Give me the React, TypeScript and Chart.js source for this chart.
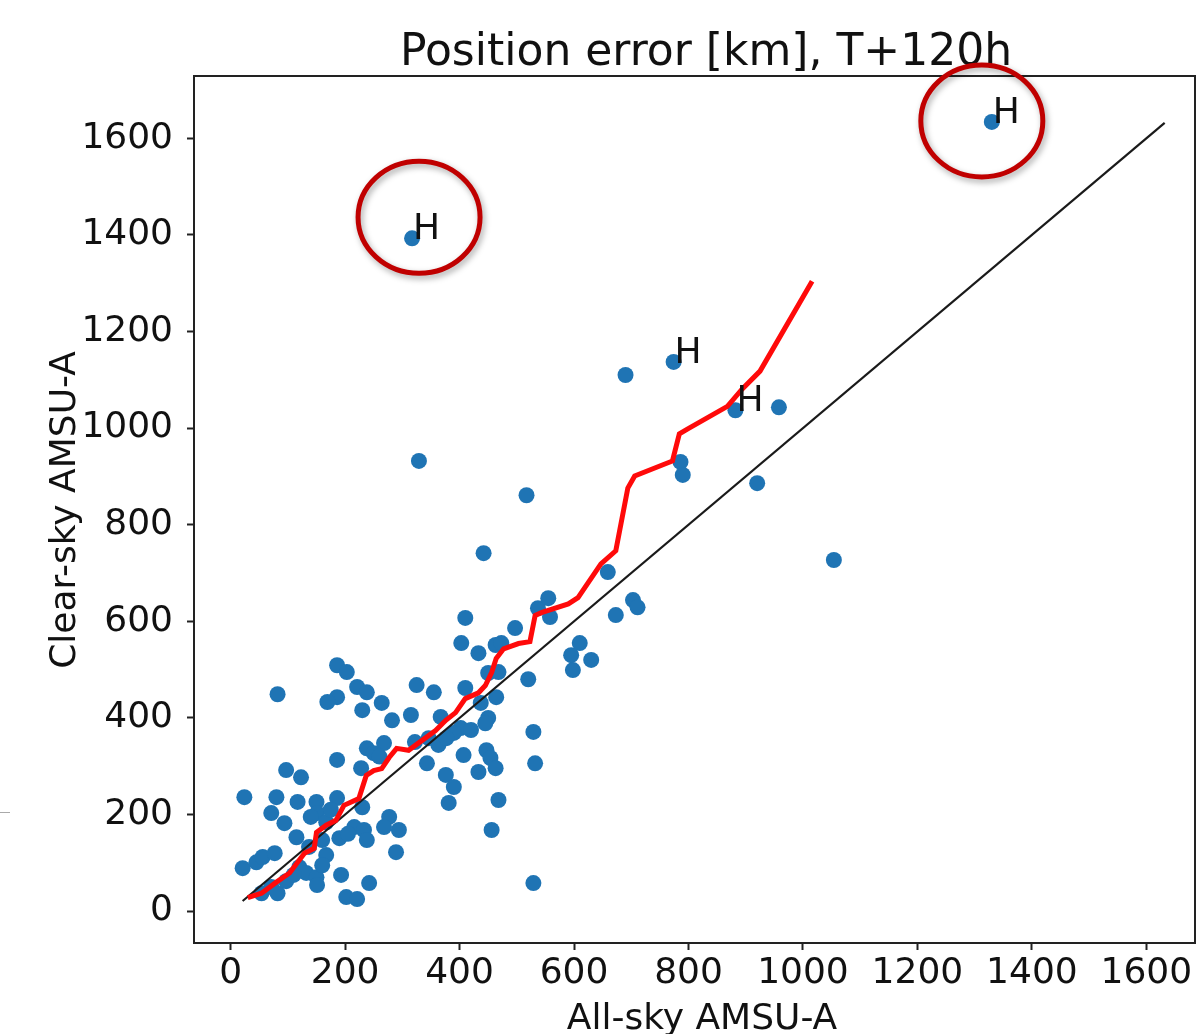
import React, { useEffect, useRef } from "react";
import { Chart, registerables } from "chart.js";

Chart.register(...registerables);

// ---- Data ----
const titleText = "Position error [km], T+120h";
const xAxisTitle = "All-sky AMSU-A";
const yAxisTitle = "Clear-sky AMSU-A";

const xTicks = [0, 200, 400, 600, 800, 1000, 1200, 1400, 1600];
const yTicks = [0, 200, 400, 600, 800, 1000, 1200, 1400, 1600];

// Scatter: all-sky error (x) vs clear-sky error (y), km
const allSky = [
  24, 21, 45, 56, 77, 54, 71, 82, 97, 97, 123, 80, 71, 94, 115, 117, 150, 151, 167, 160,
  167, 137, 120, 132, 150, 151, 186, 190, 193, 202, 221, 186, 230, 216, 233, 238, 277, 268, 294, 289,
  242, 228, 186, 203, 221, 238, 186, 169, 264, 230, 282, 315, 325, 355, 410, 437, 464, 367, 450, 445,
  402, 390, 346, 363, 377, 238, 268, 250, 343, 407, 447, 454, 463, 433, 376, 390, 381, 468, 456, 532,
  529, 529, 520, 450, 468, 403, 433, 463, 473, 410, 497, 537, 555, 558, 610, 595, 598, 630, 659, 703,
  711, 673, 517, 442, 329, 82, 317, 1330, 774, 882, 690, 958, 786, 790, 920, 1054,
  140, 175, 205, 260, 322, 420, 160, 110,
];
const clearSky = [
  236, 89, 101, 112, 120, 37, 50, 37, 62, 292, 277, 236, 203, 182, 153, 226, 226, 203, 184, 147,
  116, 133, 91, 79, 70, 54, 234, 151, 75, 29, 25, 313, 215, 174, 168, 147, 195, 174, 168, 122,
  58, 296, 509, 495, 464, 453, 443, 433, 431, 416, 395, 406, 468, 453, 462, 431, 443, 402, 400, 389,
  379, 369, 358, 344, 358, 337, 348, 327, 306, 323, 333, 317, 296, 288, 282, 257, 224, 230, 168, 306,
  371, 58, 480, 493, 495, 555, 534, 551, 555, 607, 586, 627, 648, 609, 555, 530, 499, 520, 702, 644,
  629, 613, 861, 741, 932, 449, 1393, 1634, 1137, 1037, 1110, 1043, 930, 903, 886, 727,
  195, 210, 160, 320, 350, 375, 95, 75,
];

// Points annotated with "H"
const hPointX = [317, 1330, 774, 882];
const hPointY = [1393, 1634, 1137, 1037];
const hLabel = "H";

// Points circled in red
const circledX = [317, 1330];
const circledY = [1393, 1634];

// Running mean (red line)
const meanX = [
  30, 54, 80, 103, 129, 146, 150, 167, 184, 198, 224, 237, 250, 264, 277, 290, 311, 334, 358, 376,
  393, 410, 433, 445, 456, 464, 477, 503, 523, 532, 543, 590, 607, 647, 673, 694, 706, 772, 784, 798,
  868, 894, 925, 1016,
];
const meanY = [
  28, 37, 60, 79, 120, 130, 163, 178, 188, 219, 233, 281, 291, 295, 318, 337, 333, 353, 374, 395,
  411, 440, 452, 467, 494, 523, 543, 554, 558, 612, 618, 636, 649, 719, 746, 876, 901, 932, 988, 998,
  1045, 1081, 1118, 1304,
];

// 1:1 reference line
const diagX = [21, 1632];
const diagY = [21, 1632];

const FONT = "'DejaVu Sans', 'Liberation Sans', sans-serif";

const overlayPlugin = {
  id: "overlay",
  afterDatasetsDraw(chart: any) {
    const { ctx, scales } = chart;
    const xs = scales.x;
    const ys = scales.y;
    ctx.save();
    ctx.fillStyle = "#111";
    ctx.font = `36px ${FONT}`;
    ctx.textAlign = "left";
    ctx.textBaseline = "alphabetic";
    for (let i = 0; i < hPointX.length; i++) {
      const px = xs.getPixelForValue(hPointX[i]);
      const py = ys.getPixelForValue(hPointY[i]);
      ctx.fillText(hLabel, px + 1, py + 1);
    }
    ctx.restore();
  },
  afterDraw(chart: any) {
    const { ctx, chartArea, scales } = chart;
    const xs = scales.x;
    const ys = scales.y;
    ctx.save();
    // frame
    ctx.strokeStyle = "#222";
    ctx.lineWidth = 2;
    ctx.strokeRect(chartArea.left, chartArea.top, chartArea.right - chartArea.left, chartArea.bottom - chartArea.top);

    // title
    ctx.fillStyle = "#111";
    ctx.font = `44px ${FONT}`;
    ctx.textAlign = "center";
    ctx.textBaseline = "alphabetic";
    ctx.fillText(titleText, 706, 65);

    // axis titles
    ctx.font = `36px ${FONT}`;
    ctx.fillText(xAxisTitle, 702, 1029);
    ctx.save();
    ctx.translate(75, 510);
    ctx.rotate(-Math.PI / 2);
    ctx.fillText(yAxisTitle, 0, 0);
    ctx.restore();

    // red annotation circles
    const offsets = [
      [7, -21],
      [-10, -1],
    ];
    ctx.strokeStyle = "#c00000";
    ctx.lineWidth = 5;
    ctx.shadowColor = "rgba(0,0,0,0.35)";
    ctx.shadowBlur = 6;
    ctx.shadowOffsetX = 2;
    ctx.shadowOffsetY = 3;
    for (let i = 0; i < circledX.length; i++) {
      const cx = xs.getPixelForValue(circledX[i]) + offsets[i][0];
      const cy = ys.getPixelForValue(circledY[i]) + offsets[i][1];
      ctx.beginPath();
      ctx.ellipse(cx, cy, 61, 56, 0, 0, Math.PI * 2);
      ctx.stroke();
    }
    ctx.shadowColor = "transparent";
    // small slide artifact line at left
    ctx.strokeStyle = "#aaa";
    ctx.lineWidth = 1;
    ctx.beginPath();
    ctx.moveTo(0, 812.5);
    ctx.lineTo(10, 812.5);
    ctx.stroke();
    ctx.restore();
  },
};

export default function App() {
  const canvasRef = useRef<HTMLCanvasElement | null>(null);

  useEffect(() => {
    document.body.style.margin = "0";
    const canvas = canvasRef.current;
    if (!canvas) return;

    const scatterData = allSky.map((x, i) => ({ x, y: clearSky[i] }));
    const meanData = meanX.map((x, i) => ({ x, y: meanY[i] }));
    const diagData = diagX.map((x, i) => ({ x, y: diagY[i] }));

    const chart = new Chart(canvas, {
      type: "scatter",
      data: {
        datasets: [
          {
            label: "Running mean",
            data: meanData,
            showLine: true,
            borderColor: "#ff0a0a",
            borderWidth: 5,
            pointRadius: 0,
            fill: false,
            order: 0,
          } as any,
          {
            label: "1:1",
            data: diagData,
            showLine: true,
            borderColor: "#1a1a1a",
            borderWidth: 2.2,
            pointRadius: 0,
            fill: false,
            order: 1,
          } as any,
          {
            label: "Cases",
            data: scatterData,
            backgroundColor: "#1f74b4",
            borderColor: "#1f74b4",
            borderWidth: 0,
            pointRadius: 8,
            order: 2,
          } as any,
        ],
      },
      options: {
        responsive: false,
        animation: false,
        events: [],
        layout: { padding: { top: 76, right: 2, left: 0, bottom: 0 } },
        plugins: {
          legend: { display: false },
          tooltip: { enabled: false },
          title: { display: false },
        },
        scales: {
          x: {
            type: "linear",
            min: -64,
            max: 1685,
            afterBuildTicks: (s: any) => {
              s.ticks = xTicks.map((v) => ({ value: v }));
            },
            afterFit: (s: any) => {
              s.height = 91;
              s.paddingLeft = 0;
              s.paddingRight = 0;
            },
            grid: {
              drawOnChartArea: false,
              drawTicks: true,
              tickLength: 7,
              tickWidth: 2,
              tickColor: "#222",
            },
            border: { display: true, color: "#222", width: 2 },
            ticks: {
              font: { family: FONT, size: 36 },
              color: "#111",
              padding: 2,
              maxRotation: 0,
              autoSkip: false,
              callback: (v: any) => String(v),
            },
          },
          y: {
            type: "linear",
            min: -66,
            max: 1729,
            afterBuildTicks: (s: any) => {
              s.ticks = yTicks.map((v) => ({ value: v }));
            },
            afterFit: (s: any) => {
              s.width = 194;
              s.paddingTop = 0;
              s.paddingBottom = 0;
            },
            grid: {
              drawOnChartArea: false,
              drawTicks: true,
              tickLength: 7,
              tickWidth: 2,
              tickColor: "#222",
            },
            border: { display: true, color: "#222", width: 2 },
            ticks: {
              font: { family: FONT, size: 36 },
              color: "#111",
              padding: 14,
              autoSkip: false,
              callback: (v: any) => String(v),
            },
          },
        },
      } as any,
      plugins: [overlayPlugin],
    });

    return () => {
      chart.destroy();
    };
  }, []);

  return (
    <div style={{ width: 1203, height: 1034, background: "#fff", overflow: "hidden" }}>
      <canvas ref={canvasRef} width={1203} height={1034} style={{ display: "block", width: 1203, height: 1034 }} />
    </div>
  );
}
